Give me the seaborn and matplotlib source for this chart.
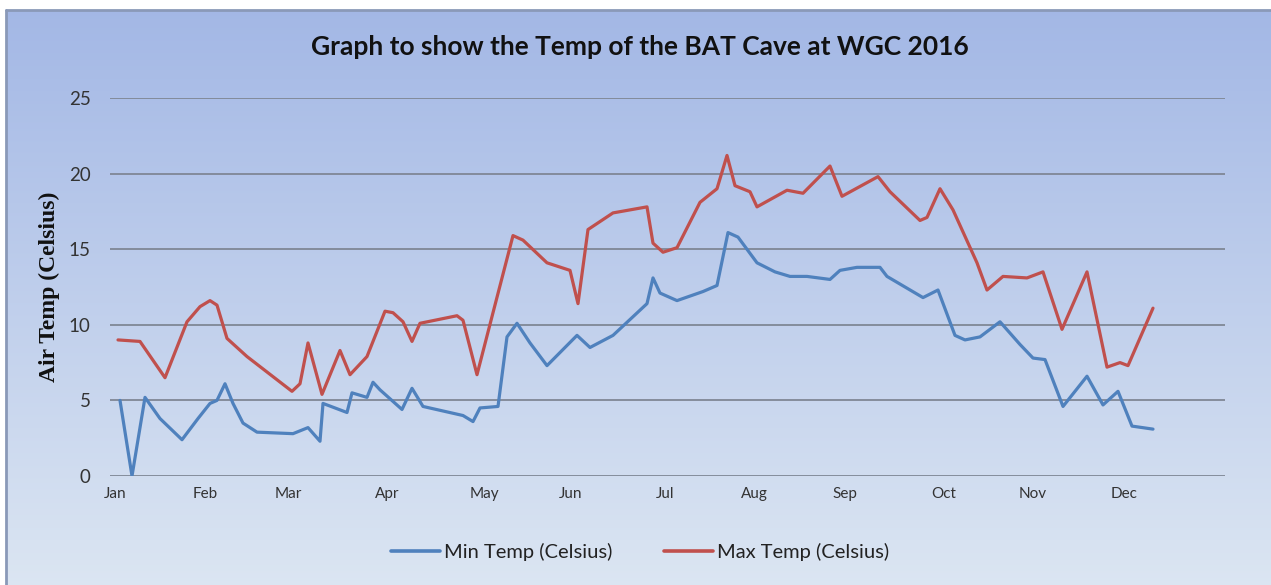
"""
BAT Cave temperature chart (WGC 2016) - min / max air temperature through the year.
"""
import numpy as np
import pandas as pd
import matplotlib
matplotlib.use("Agg")
import matplotlib.pyplot as plt
from matplotlib.lines import Line2D
import seaborn as sns

# x positions are chart positions (month labels sit at MONTH_POS)
MONTHS = ["Jan", "Feb", "Mar", "Apr", "May", "Jun",
          "Jul", "Aug", "Sep", "Oct", "Nov", "Dec"]
MONTH_POS = [115, 205, 288, 387, 484, 571, 665, 754, 845, 944, 1033, 1124]

MIN_POS = [120, 132, 145, 160, 182, 198, 210, 217, 225, 233, 243, 257, 293, 308, 320, 323,
           347, 352, 367, 373, 380, 402, 412, 423, 463, 473, 480, 498, 507,
           517, 530, 547, 577, 590, 613, 647, 653, 660, 677, 703, 717, 728, 738,
           757, 775, 790, 807, 830, 840, 857, 880, 887, 923, 938, 955, 965, 980,
           1000, 1020, 1033, 1045, 1063, 1087, 1103, 1118, 1132, 1153]
MIN_TEMP = [5.0, 0.0, 5.2, 3.8, 2.4, 3.8, 4.8, 5.0, 6.1, 4.8, 3.5, 2.9, 2.8, 3.2, 2.3, 4.8,
            4.2, 5.5, 5.2, 6.2, 5.7, 4.4, 5.8, 4.6, 4.0, 3.6, 4.5, 4.6, 9.2,
            10.1, 8.8, 7.3, 9.3, 8.5, 9.3, 11.4, 13.1, 12.1, 11.6, 12.2, 12.6, 16.1, 15.8,
            14.1, 13.5, 13.2, 13.2, 13.0, 13.6, 13.8, 13.8, 13.2, 11.8, 12.3, 9.3, 9.0, 9.2,
            10.2, 8.7, 7.8, 7.7, 4.6, 6.6, 4.7, 5.6, 3.3, 3.1]

MAX_POS = [118, 140, 165, 187, 200, 210, 217, 227, 247, 292, 300, 308, 322, 340,
           350, 367, 385, 393, 403, 412, 420, 457, 463, 477, 493, 513, 523,
           547, 570, 578, 588, 613, 647, 653, 663, 677, 700, 717, 727, 735,
           750, 757, 787, 803, 830, 842, 878, 890, 920, 927, 940, 953, 977,
           987, 1003, 1027, 1043, 1062, 1087, 1107, 1120, 1128, 1153]
MAX_TEMP = [9.0, 8.9, 6.5, 10.2, 11.2, 11.6, 11.3, 9.1, 7.9, 5.6, 6.1, 8.8, 5.4, 8.3,
            6.7, 7.9, 10.9, 10.8, 10.2, 8.9, 10.1, 10.6, 10.3, 6.7, 10.8, 15.9, 15.6,
            14.1, 13.6, 11.4, 16.3, 17.4, 17.8, 15.4, 14.8, 15.1, 18.1, 19.0, 21.2, 19.2,
            18.8, 17.8, 18.9, 18.7, 20.5, 18.5, 19.8, 18.8, 16.9, 17.1, 19.0, 17.6, 14.1,
            12.3, 13.2, 13.1, 13.5, 9.7, 13.5, 7.2, 7.5, 7.3, 11.1]

Y_TICKS = [0, 5, 10, 15, 20, 25]

BLUE = "#4F81BD"
RED = "#C0504D"

sns.set_style("white")
plt.rcParams["font.family"] = ["Lato", "DejaVu Sans"]

W, H = 1271, 585
fig = plt.figure(figsize=(W / 100, H / 100), dpi=100)
fig.patch.set_facecolor("white")

# gradient background panel
bg = fig.add_axes([6 / W, 0, 1 - 6 / W, 1 - 10 / H])
grad = np.linspace(0, 1, 256)[:, None]
top = np.array([0.64, 0.72, 0.90])
bottom = np.array([0.86, 0.90, 0.95])
img = top[None, None, :] * (1 - grad[:, :, None]) + bottom[None, None, :] * grad[:, :, None]
bg.imshow(img, aspect="auto", extent=[0, 1, 0, 1])
bg.set_axis_off()
bg.plot([0, 0], [0, 1], color="#8a99b8", lw=2, transform=bg.transAxes, clip_on=False)
bg.plot([0, 1], [1, 1], color="#8a99b8", lw=2, transform=bg.transAxes, clip_on=False)

# plot area
x0, x1 = 110, 1225
y_top, y_bot = 98, 476
ax = fig.add_axes([x0 / W, 1 - y_bot / H, (x1 - x0) / W, (y_bot - y_top) / H])
ax.patch.set_alpha(0)

df = pd.concat([
    pd.DataFrame({"pos": MIN_POS, "temp": MIN_TEMP, "series": "Min Temp (Celsius)"}),
    pd.DataFrame({"pos": MAX_POS, "temp": MAX_TEMP, "series": "Max Temp (Celsius)"}),
])

sns.lineplot(data=df, x="pos", y="temp", hue="series",
             palette={"Min Temp (Celsius)": BLUE, "Max Temp (Celsius)": RED},
             sort=False, linewidth=2.3, legend=False, ax=ax,
             solid_joinstyle="round", solid_capstyle="round")

ax.set_xlim(x0, x1)
ax.set_ylim(0, 25)
ax.set_yticks(Y_TICKS)
ax.set_xticks(MONTH_POS)
ax.set_xticklabels(MONTHS)
for y in Y_TICKS:
    ax.axhline(y, color="#7f8795", lw=1.3, zorder=0)
for s in ax.spines.values():
    s.set_visible(False)
ax.tick_params(axis="y", length=0, pad=14, labelsize=13.5, labelcolor="#333333")
ax.tick_params(axis="x", length=0, pad=8, labelsize=11, labelcolor="#333333")
ax.set_xlabel("")
ax.set_ylabel("Air Temp (Celsius)", family="Liberation Serif", fontweight="bold",
              fontsize=17, labelpad=6, color="#111111")

fig.text(640 / W, 1 - 47 / H, "Graph to show the Temp of the BAT Cave at WGC 2016",
         ha="center", va="center", fontsize=19, fontweight="bold", color="#111111")

handles = [Line2D([], [], color=BLUE, lw=2.6), Line2D([], [], color=RED, lw=2.6)]
fig.legend(handles, ["Min Temp (Celsius)", "Max Temp (Celsius)"],
           loc="center", bbox_to_anchor=(640 / W, 1 - 552 / H), ncol=2,
           frameon=False, fontsize=14.5, handlelength=2.4, columnspacing=2.6,
           handletextpad=0.2, labelcolor="#222222")

fig.savefig("out.png", dpi=100)
